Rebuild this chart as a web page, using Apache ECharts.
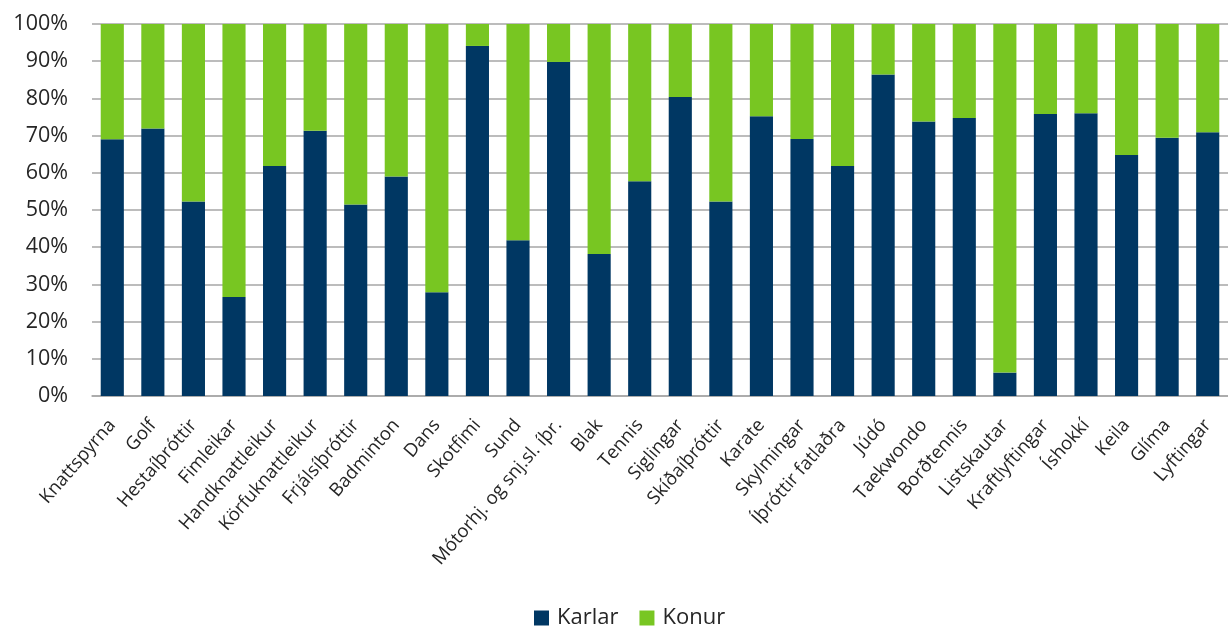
<!DOCTYPE html>
<html>
<head>
<meta charset="utf-8">
<script src="https://cdn.jsdelivr.net/npm/echarts@6/dist/echarts.min.js"></script>
<style>
html,body{margin:0;padding:0;background:#fff;}
#chart{width:1228px;height:628px;}
</style>
</head>
<body>
<div id="chart"></div>
<script>
const categories = ["Knattspyrna","Golf","Hestaíþróttir","Fimleikar","Handknattleikur","Körfuknattleikur","Frjálsíþróttir","Badminton","Dans","Skotfimi","Sund","Mótorhj. og snj.sl. íþr.","Blak","Tennis","Siglingar","Skíðaíþróttir","Karate","Skylmingar","Íþróttir fatlaðra","Júdó","Taekwondo","Borðtennis","Listskautar","Kraftlyftingar","Íshokkí","Keila","Glíma","Lyftingar"];
const karlar = [69.0,71.9,52.3,26.6,61.8,71.3,51.5,59.0,27.9,94.1,41.9,89.8,38.2,57.7,80.4,52.3,75.2,69.1,61.8,86.4,73.8,74.7,6.3,75.8,76.0,64.8,69.4,70.9];
const konur = [31.0,28.1,47.7,73.4,38.2,28.7,48.5,41.0,72.1,5.9,58.1,10.2,61.8,42.3,19.6,47.7,24.8,30.9,38.2,13.6,26.2,25.3,93.7,24.2,24.0,35.2,30.6,29.1];
const yTicks = [0,10,20,30,40,50,60,70,80,90,100];

const chart = echarts.init(document.getElementById('chart'), null, {renderer:'canvas'});
const FONT = '"Open Sans", sans-serif';
chart.setOption({
  animation:false,
  backgroundColor:'#ffffff',
  textStyle:{fontFamily:FONT},
  grid:{left:92, top:24, width:1138, bottom:232, containLabel:false},
  legend:{
    bottom:-1, left:534, padding:0,
    itemWidth:15, itemHeight:15, itemGap:21,
    icon:'rect',
    textStyle:{fontSize:22, color:'#262626', fontFamily:FONT, padding:[0,0,0,3]},
    data:['Karlar','Konur']
  },
  xAxis:{
    type:'category', data:categories,
    axisTick:{show:false},
    axisLine:{lineStyle:{color:'#a6a6a6', width:1.5}},
    axisLabel:{rotate:49, interval:0, margin:26, fontSize:18.5, color:'#262626', fontFamily:FONT}
  },
  yAxis:{
    type:'value', min:0, max:100, interval:10,
    axisLine:{show:false}, axisTick:{show:false},
    splitLine:{lineStyle:{color:'#a6a6a6', width:1.5}},
    axisLabel:{formatter:function(v){return yTicks.indexOf(v)>=0? v+'%':'';}, fontSize:21.5, color:'#262626', margin:24, fontFamily:FONT}
  },
  series:[
    {name:'Karlar', type:'bar', stack:'s', data:karlar, barWidth:'57%', itemStyle:{color:'#003763'}},
    {name:'Konur', type:'bar', stack:'s', data:konur, barWidth:'57%', itemStyle:{color:'#78C622'}}
  ]
});
</script>
</body>
</html>
